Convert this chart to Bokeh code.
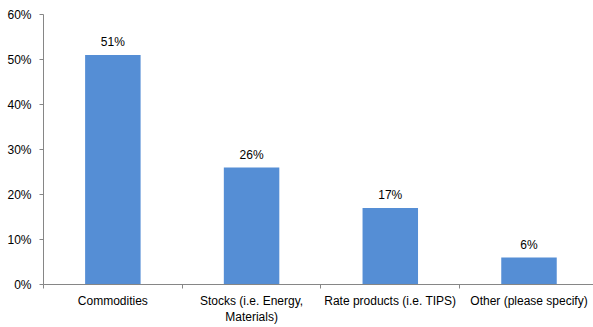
from bokeh.plotting import figure
from bokeh.models import ColumnDataSource, FixedTicker, Range1d, PrintfTickFormatter
from bokeh.core.properties import value
from bokeh.embed import file_html
from bokeh.resources import INLINE

categories = ["Commodities", "Stocks (i.e. Energy,\nMaterials)", "Rate products (i.e. TIPS)", "Other (please specify)"]
shares = [51, 26, 17, 6]
share_labels = ["51%", "26%", "17%", "6%"]
y_ticks = [0, 10, 20, 30, 40, 50, 60]

FONT = "Liberation Sans"
BAR = "#558ED5"
AXIS = "#868686"

centers = [i + 0.5 for i in range(len(categories))]
src = ColumnDataSource(dict(x=centers, top=shares, label=share_labels))

p = figure(width=593, height=327, output_backend="svg", toolbar_location=None,
           x_range=Range1d(0, 3.965), y_range=Range1d(0, 60),
           min_border_left=43, min_border_right=0, min_border_top=14, min_border_bottom=43)
p.xgrid.visible = False
p.ygrid.visible = False
p.outline_line_color = None
p.background_fill_color = "white"
p.border_fill_color = "white"

p.vbar(x="x", top="top", width=0.4, source=src, fill_color=BAR, line_color=None)
p.text(x="x", y="top", text="label", source=src, text_align="center", text_baseline="bottom",
       y_offset=-6, text_font=value(FONT), text_font_size="12px", text_color="#000000")

# category axis: labels at bar centres, separator ticks between categories
xa = p.xaxis[0]
xa.ticker = FixedTicker(ticks=centers, minor_ticks=[0, 1, 2, 3, 4])
xa.major_label_overrides = {c: lab for c, lab in zip(centers, categories)}
xa.major_tick_line_color = None
xa.major_tick_out = 0
xa.major_tick_in = 0
xa.minor_tick_line_color = AXIS
xa.minor_tick_out = 4
xa.minor_tick_in = 0
xa.axis_line_color = AXIS
xa.major_label_text_font = FONT
xa.major_label_text_font_size = "12px"
xa.major_label_text_color = "#000000"
xa.major_label_standoff = 5

ya = p.yaxis[0]
ya.ticker = FixedTicker(ticks=y_ticks)
ya.formatter = PrintfTickFormatter(format="%d%%")
ya.major_tick_line_color = AXIS
ya.major_tick_out = 4
ya.major_tick_in = 0
ya.minor_tick_line_color = None
ya.axis_line_color = AXIS
ya.major_label_text_font = FONT
ya.major_label_text_font_size = "12px"
ya.major_label_text_color = "#000000"
ya.major_label_standoff = 8

open("out.html", "w").write(file_html(p, INLINE))
